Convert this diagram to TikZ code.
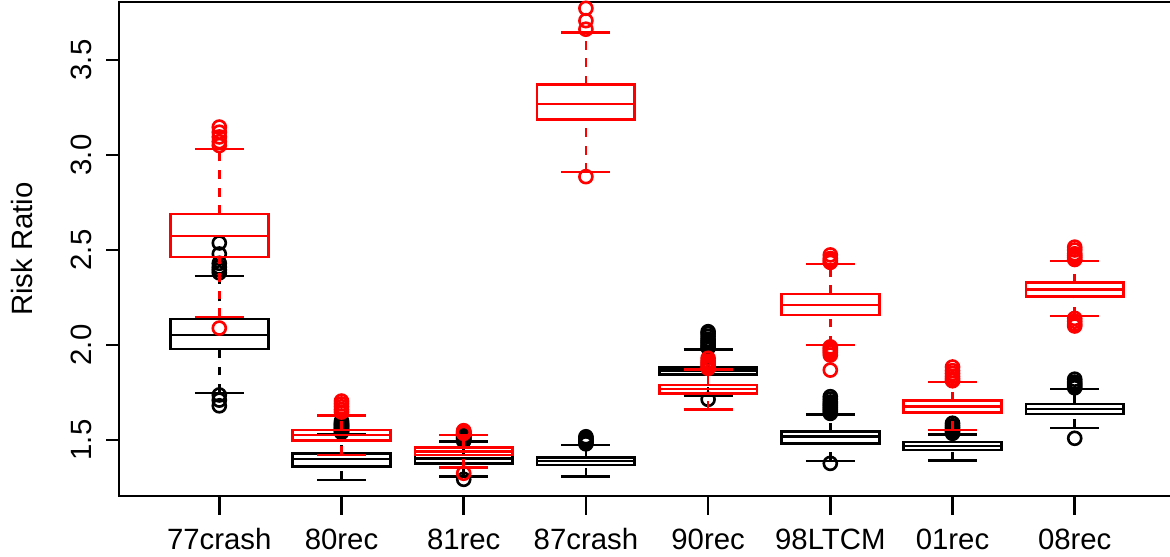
\documentclass[tikz,border=0pt]{standalone}
\usepackage{fontspec}
\setmainfont{Liberation Sans}
\tikzset{
  whisk/.style={dash pattern=on 5pt off 5pt},
  lab/.style={font=\fontsize{16.7pt}{20pt}\selectfont, inner sep=0pt}
}
% #1 position, #2 colour, #3 lower cap, #4 q1, #5 median, #6 q3, #7 upper cap, #8 outliers
\newcommand{\riskbox}[8]{%
  \draw[#2,whisk] (#1,#3) -- (#1,#4) (#1,#6) -- (#1,#7);
  \draw[#2] (#1-.2,#3) -- (#1+.2,#3) (#1-.2,#7) -- (#1+.2,#7);
  \draw[#2] (#1-.4,#4) rectangle (#1+.4,#6) (#1-.4,#5) -- (#1+.4,#5);
  \foreach \o in {#8} \draw[#2] (#1,\o) circle[radius=.13cm];
}

\begin{document}
\begin{tikzpicture}[x=2.444cm, y=3.8cm, line width=1.5pt]
  \useasboundingbox (-0.7946,0.8895) rectangle (8.7798,3.8158);
  \draw (0.179,1.205) rectangle (8.82,3.805);
  % axes
  \foreach \v [count=\k] in {1.5,2.0,2.5,3.0,3.5}
    \draw (0.179,\v) -- (0.069,\v) node[lab, rotate=90, anchor=base] (yl\k) at (-0.042,\v) {\v};
  \node[lab, rotate=90, anchor=base] (ylab) at (-0.525,2.505) {Risk Ratio};
  \foreach \lab [count=\i] in {77crash,80rec,81rec,87crash,90rec,98LTCM,01rec,08rec}
    \draw (\i,1.205) -- (\i,1.105) node[lab, anchor=base] (xl\i) at (\i,0.926) {\lab};
  % black
  \riskbox{1}{black}{1.747}{1.979}{2.053}{2.137}{2.363}{2.537,2.479,2.43,2.41,2.395,2.38,1.737,1.71,1.68}
  \riskbox{2}{black}{1.29}{1.36}{1.40}{1.43}{1.53}{1.54,1.545,1.55,1.555,1.56,1.565,1.57,1.575,1.58,1.585,1.59,1.6}
  \riskbox{3}{black}{1.307}{1.377}{1.404}{1.421}{1.491}{1.495,1.5,1.505,1.51,1.515,1.52,1.525,1.53,1.535,1.544,1.293}
  \riskbox{4}{black}{1.307}{1.368}{1.389}{1.409}{1.474}{1.48,1.485,1.49,1.495,1.5,1.505,1.51,1.517}
  \riskbox{5}{black}{1.732}{1.846}{1.865}{1.882}{1.977}{1.985,1.99,2.0,2.01,2.02,2.03,2.045,2.06,2.07,1.714}
  \riskbox{6}{black}{1.389}{1.482}{1.517}{1.544}{1.635}{1.64,1.65,1.66,1.67,1.68,1.69,1.70,1.715,1.728,1.377}
  \riskbox{7}{black}{1.391}{1.447}{1.468}{1.489}{1.53}{1.535,1.545,1.555,1.565,1.575,1.588}
  \riskbox{8}{black}{1.563}{1.637}{1.663}{1.689}{1.768}{1.775,1.785,1.795,1.805,1.82,1.509}
  % red
  \riskbox{1}{red}{2.147}{2.463}{2.574}{2.689}{3.032}{3.147,3.12,3.095,3.07,3.05,2.089}
  \riskbox{2}{red}{1.421}{1.496}{1.526}{1.553}{1.628}{1.647,1.66,1.675,1.69,1.705}
  \riskbox{3}{red}{1.356}{1.421}{1.438}{1.461}{1.526}{1.535,1.54,1.549,1.325}
  \riskbox{4}{red}{2.91}{3.188}{3.268}{3.37}{3.644}{3.662,3.707,3.772,2.886}
  \riskbox{5}{red}{1.661}{1.746}{1.768}{1.789}{1.872}{1.877,1.885,1.895,1.905,1.915,1.93}
  \riskbox{6}{red}{2.0}{2.158}{2.211}{2.268}{2.426}{2.435,2.444,2.455,2.474,1.99,1.98,1.97,1.96,1.947,1.868}
  \riskbox{7}{red}{1.553}{1.644}{1.675}{1.707}{1.805}{1.812,1.822,1.835,1.85,1.865,1.884}
  \riskbox{8}{red}{2.153}{2.254}{2.293}{2.33}{2.442}{2.45,2.46,2.47,2.48,2.5,2.515,2.14,2.125,2.11,2.10}
\end{tikzpicture}
\end{document}
